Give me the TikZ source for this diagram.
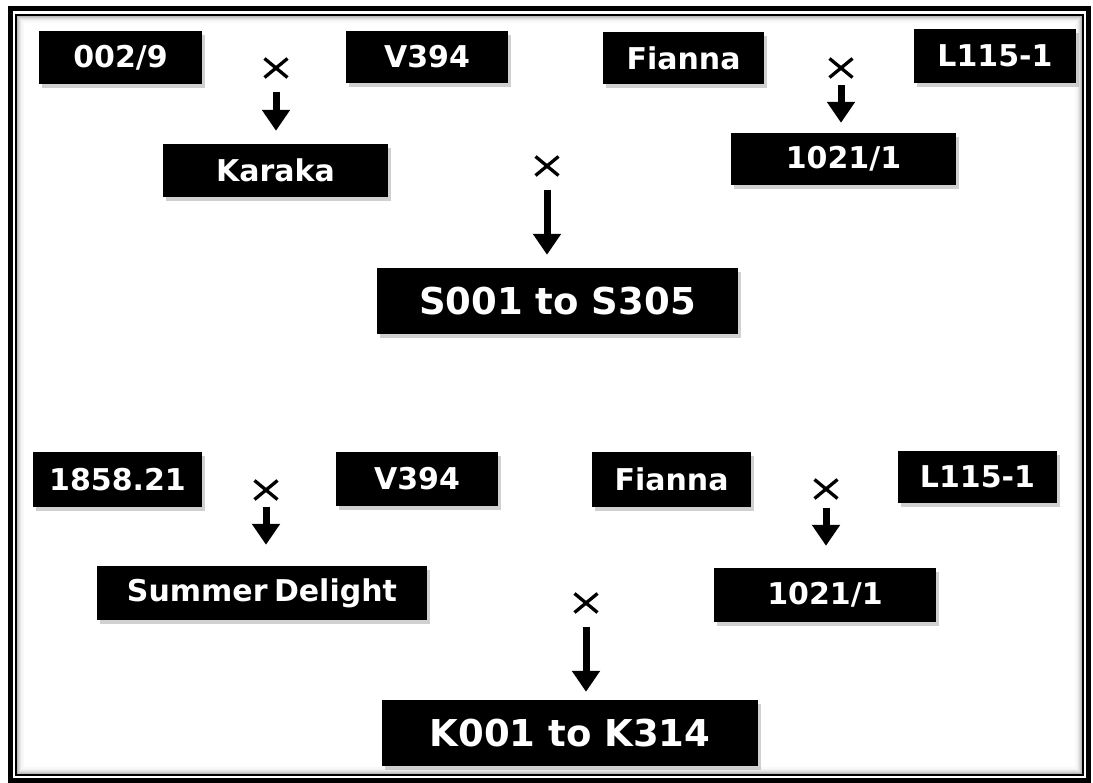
\documentclass[tikz,border=0pt]{standalone}
\usepackage{fontspec}
\setmainfont{DejaVu Sans}
\usetikzlibrary{arrows.meta,shadows,calc}
\begin{document}
\begin{tikzpicture}[x=1pt,y=-1pt,
  box/.style={fill=black,text=white,inner sep=0pt,
    font=\bfseries\fontsize{30}{30}\selectfont,
    drop shadow={shadow xshift=3pt,shadow yshift=-4pt,fill=gray!60,opacity=0.6}},
  bigbox/.style={box,font=\bfseries\fontsize{37}{37}\selectfont},
  sz/.style 2 args={minimum width=#1,minimum height=#2},
  crosspt/.style={inner sep=0pt,minimum size=1pt},
  crossline/.style={line width=3.3pt},
  arr/.style={line width=7pt,-{Triangle[width=27pt,length=21pt]}}
]
\useasboundingbox (0,0) rectangle (1093,783);
\fill[white] (0,0) rectangle (1093,783);
% frame with inner shade
\foreach \i/\g in {0/55,1/40,2/28,3/18,4/10,5/5}{
  \draw[gray!\g,line width=1.2pt] (18+\i,17+\i) rectangle (1081-\i,773-\i);
}
\draw[line width=5pt] (10,9) rectangle (1088.5,780);
\draw[line width=1.8pt] (16,15) rectangle (1083,775);

% top group
\node[box,sz={163}{53}] (b1) at (120.5,57.5) {002/9};
\node[box,sz={162}{52}] (b2) at (427,57) {V394};
\node[box,sz={161}{52}] (b3) at (683.5,58) {Fianna};
\node[box,sz={162}{54}] (b4) at (995,56) {L115-1};
\node[box,sz={225}{53}] (b5) at (275.5,170.5) {Karaka};
\node[box,sz={225}{52}] (b6) at (843.5,159) {1021/1};
\node[bigbox,sz={361}{66}] (b7) at (557.5,301) {S001 to S305};
\node[crosspt] (m1) at (276,68) {};
\node[crosspt] (m2) at (841,68) {};
\node[crosspt] (m3) at (547,166) {};

% bottom group
\node[box,sz={169}{55}] (c1) at (117.5,479.5) {1858.21};
\node[box,sz={162}{54}] (c2) at (417,479) {V394};
\node[box,sz={159}{55}] (c3) at (671.5,479.5) {Fianna};
\node[box,sz={159}{52}] (c4) at (977.5,477) {L115-1};
\node[box,sz={330}{54}] (c5) at (262,593) {Summer\hspace{-4pt} Delight};
\node[box,sz={222}{54}] (c6) at (825,595) {1021/1};
\node[bigbox,sz={376}{66}] (c7) at (570,733) {K001 to K314};
\node[crosspt] (n1) at (266,490) {};
\node[crosspt] (n2) at (826,489) {};
\node[crosspt] (n3) at (586,603) {};

% crosses
\foreach \m in {m1,m2,m3,n1,n2,n3}{
  \draw[crossline] ($(\m)+(-11.5,-9.5)$) -- ($(\m)+(11.5,9.5)$)
                   ($(\m)+(11.5,-9.5)$) -- ($(\m)+(-11.5,9.5)$);
}

% arrows
\draw[arr] ($(m1)+(0,24)$) -- ($(m1 |- b5.north)+(0,-13)$);
\draw[arr] ($(m2)+(0,17)$) -- ($(m2 |- b6.north)+(0,-10)$);
\draw[arr] ($(m3)+(0,24)$) -- ($(m3 |- b7.north)+(0,-13)$);
\draw[arr] ($(n1)+(0,17)$) -- ($(n1 |- c5.north)+(0,-21)$);
\draw[arr] ($(n2)+(0,19)$) -- ($(n2 |- c6.north)+(0,-22)$);
\draw[arr] ($(n3)+(0,24)$) -- ($(n3 |- c7.north)+(0,-8)$);
\end{tikzpicture}
\end{document}
